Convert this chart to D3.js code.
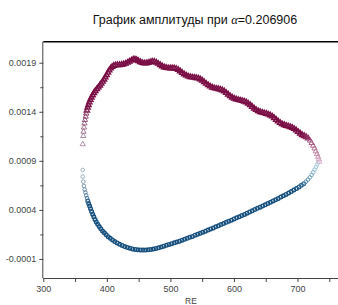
<!DOCTYPE html>
<html><head><meta charset="utf-8">
<script src="https://cdn.jsdelivr.net/npm/d3@7"></script>
<style>body{margin:0;background:#fff;overflow:hidden}</style>
</head><body><svg id="c" width="338" height="305"></svg>
<script>
const upperRE = [362.0,362.9,363.3,364.0,364.8,365.6,366.6,367.5,368.6,369.7,
371.0,372.4,374.0,375.7,377.6,379.6,381.8,384.2,386.5,388.9,
391.1,393.3,395.5,397.6,399.6,401.7,403.7,405.9,408.3,410.9,
413.8,416.8,419.9,423.1,426.2,429.3,432.5,435.6,438.8,441.6,
444.3,447.0,449.8,452.6,455.6,458.8,461.9,465.1,468.2,471.4,
474.5,477.7,480.8,484.0,487.1,490.2,493.4,496.5,499.7,502.8,
506.0,509.1,512.3,515.4,518.6,521.7,524.9,528.0,531.2,534.3,
537.5,540.6,543.8,546.9,550.0,553.2,556.3,559.5,562.6,565.8,
568.9,572.1,575.2,578.4,581.5,584.7,587.8,591.0,594.1,597.3,
600.4,603.5,606.7,609.8,613.0,616.1,619.3,622.4,625.6,628.7,
631.9,635.0,638.2,641.3,644.5,647.6,650.8,653.9,657.0,660.2,
663.3,666.5,669.6,672.8,675.9,679.1,682.2,685.4,688.5,691.7,
694.8,698.0,701.1,704.3,707.4,710.6,713.7,716.8,719.7,722.2,
724.6,726.8,728.8,730.7,732.3,733.5,734.5];
const upperAmp = [0.001069,0.001153,0.001197,0.001240,0.001281,0.001316,0.001350,0.001382,0.001413,0.001442,
0.001469,0.001496,0.001521,0.001545,0.001569,0.001591,0.001612,0.001631,0.001649,0.001668,
0.001687,0.001707,0.001729,0.001751,0.001775,0.001799,0.001822,0.001842,0.001858,0.001869,
0.001875,0.001876,0.001877,0.001879,0.001884,0.001891,0.001901,0.001912,0.001924,0.001933,
0.001934,0.001928,0.001917,0.001907,0.001899,0.001895,0.001895,0.001899,0.001906,0.001912,
0.001911,0.001903,0.001891,0.001877,0.001864,0.001854,0.001848,0.001845,0.001844,0.001844,
0.001843,0.001838,0.001828,0.001813,0.001797,0.001783,0.001771,0.001761,0.001755,0.001751,
0.001748,0.001745,0.001740,0.001732,0.001719,0.001703,0.001687,0.001672,0.001659,0.001648,
0.001641,0.001636,0.001632,0.001627,0.001620,0.001609,0.001593,0.001576,0.001560,0.001545,
0.001535,0.001527,0.001521,0.001516,0.001511,0.001505,0.001497,0.001484,0.001469,0.001452,
0.001434,0.001419,0.001407,0.001398,0.001391,0.001386,0.001380,0.001374,0.001365,0.001353,
0.001337,0.001319,0.001302,0.001287,0.001274,0.001265,0.001258,0.001252,0.001245,0.001237,
0.001226,0.001211,0.001195,0.001179,0.001164,0.001153,0.001143,0.001129,0.001107,0.001082,
0.001054,0.001026,0.000997,0.000969,0.000941,0.000916,0.000891];
const lowerRE = [362.0,362.0,362.9,364.0,365.1,366.2,367.5,368.8,370.0,371.4,
372.9,374.4,376.0,377.7,379.5,381.4,383.4,385.6,388.0,390.5,
393.2,396.0,399.0,402.1,405.4,408.9,412.5,416.3,420.2,424.2,
428.2,432.3,436.4,440.5,444.6,448.7,452.8,456.9,461.0,465.1,
469.2,473.3,477.3,481.4,485.5,489.6,493.7,497.8,501.9,506.0,
510.1,514.2,518.3,522.3,526.4,530.5,534.6,538.7,542.8,546.9,
551.0,555.1,559.2,563.3,567.4,571.4,575.5,579.6,583.7,587.8,
591.9,596.0,600.1,604.2,608.3,612.4,616.5,620.5,624.6,628.7,
632.8,636.9,641.0,645.1,649.2,653.3,657.4,661.5,665.5,669.6,
673.7,677.8,681.9,686.0,690.1,694.2,698.3,702.4,706.1,709.8,
713.2,716.5,719.5,722.2,724.7,726.9,729.0,730.7,732.3];
const lowerAmp = [0.000807,0.000739,0.000688,0.000644,0.000607,0.000578,0.000548,0.000520,0.000491,0.000466,
0.000439,0.000412,0.000384,0.000356,0.000329,0.000301,0.000277,0.000254,0.000230,0.000208,
0.000186,0.000166,0.000146,0.000127,0.000110,0.000094,0.000077,0.000063,0.000050,0.000038,
0.000026,0.000017,0.000009,0.000002,-0.000003,-0.000006,-0.000008,-0.000009,-0.000009,-0.000007,
-0.000004,0.000001,0.000007,0.000014,0.000022,0.000030,0.000040,0.000048,0.000056,0.000064,
0.000073,0.000081,0.000091,0.000100,0.000110,0.000120,0.000130,0.000142,0.000152,0.000162,
0.000172,0.000183,0.000194,0.000206,0.000216,0.000227,0.000238,0.000250,0.000261,0.000273,
0.000284,0.000295,0.000308,0.000319,0.000330,0.000342,0.000354,0.000367,0.000379,0.000391,
0.000403,0.000416,0.000428,0.000440,0.000452,0.000464,0.000478,0.000491,0.000503,0.000516,
0.000531,0.000544,0.000558,0.000572,0.000587,0.000602,0.000617,0.000634,0.000650,0.000667,
0.000687,0.000708,0.000731,0.000757,0.000783,0.000811,0.000837,0.000862,0.000882];
const xTickValues = [300,400,500,600,700];
const xMinorTicks = [350,450,550,650,750];
const yTickValues = [-0.0001,0.0004,0.0009,0.0014,0.0019];
const yMinorTicks = [0.00015,0.00065,0.00115,0.00165];
const titleText = "График амплитуды при ";
const alphaText = "\u03B1";
const alphaValue = "=0.206906";
const xLabel = "RE";

const svg = d3.select("#c");
const L = 43.3, T = 41.7, B = 278, Rpx = 338;
const x = d3.scaleLinear().domain([300, 766]).range([L, L + 466*0.6355]);
const y = d3.scaleLinear().domain([-0.000294, 0.002114]).range([B, T]);
const font = "'Liberation Sans', Arial, sans-serif";

// title
const t = svg.append("text").attr("x", 195).attr("y", 24).attr("text-anchor", "middle")
  .attr("font-family", font).attr("font-size", 12.5).attr("fill", "#111");
t.append("tspan").text(titleText);
t.append("tspan").attr("font-family", "'Liberation Serif', 'DejaVu Serif', serif").attr("font-style", "italic").text(alphaText);
t.append("tspan").text(alphaValue);

// frame top
svg.append("line").attr("x1", L).attr("x2", Rpx).attr("y1", T).attr("y2", T)
  .attr("stroke", "#000").attr("stroke-width", 1.4);

// axes
const gx = svg.append("g").attr("transform", `translate(0,${B})`)
  .call(d3.axisBottom(x).tickValues(xTickValues).tickSize(4).tickSizeOuter(0).tickPadding(4).tickFormat(d => String(d)));
gx.select(".domain").remove();
gx.append("line").attr("x1", L).attr("x2", Rpx).attr("y1", 0.5).attr("y2", 0.5).attr("stroke", "#444");
gx.selectAll(".tick line").attr("stroke", "#444");
gx.selectAll(".tick text").attr("font-family", font).attr("font-size", 9).attr("fill", "#444");
gx.selectAll(".minor").data(xMinorTicks).enter().append("line")
  .attr("x1", d => x(d) + 0.5).attr("x2", d => x(d) + 0.5).attr("y1", 0).attr("y2", 4).attr("stroke", "#444");

const gy = svg.append("g").attr("transform", `translate(${L},0)`)
  .call(d3.axisLeft(y).tickValues(yTickValues).tickSize(4).tickSizeOuter(0).tickPadding(3).tickFormat(d => d.toFixed(4)));
gy.select(".domain").remove();
gy.append("line").attr("x1", -0.5).attr("x2", -0.5).attr("y1", T).attr("y2", B).attr("stroke", "#444");
gy.selectAll(".tick line").attr("stroke", "#444");
gy.selectAll(".tick text").attr("font-family", font).attr("font-size", 9).attr("fill", "#444");
gy.selectAll(".minor").data(yMinorTicks).enter().append("line")
  .attr("x1", -3).attr("x2", 0).attr("y1", d => y(d) + 0.5).attr("y2", d => y(d) + 0.5).attr("stroke", "#444");

svg.append("text").attr("x", 191).attr("y", 304).attr("text-anchor", "middle")
  .attr("font-family", font).attr("font-size", 8.5).attr("fill", "#444").text(xLabel);

// colour fade near the fold ends
function fadeWeight(i, n, kStart, kEnd) {
  if (i < kStart) return 1 - i / kStart;
  if (i > n - 1 - kEnd) return (i - (n - 1 - kEnd)) / kEnd;
  return 0;
}
const upperColorStart = d3.interpolateRgb("#7a0e45", "#a68aa0");
const upperColorEnd = d3.interpolateRgb("#7a0e45", "#d8a8c4");
const lowerColorStart = d3.interpolateRgb("#17507e", "#9aaebc");
const lowerColorEnd = d3.interpolateRgb("#17507e", "#b4dce6");

const upper = upperRE.map((v, i) => ({re: v, a: upperAmp[i], i}));
const lower = lowerRE.map((v, i) => ({re: v, a: lowerAmp[i], i}));

const tri = d3.symbol().type(d3.symbolTriangle).size(12);
svg.append("g").selectAll("circle").data(lower).enter().append("circle")
  .attr("cx", d => x(d.re)).attr("cy", d => y(d.a)).attr("r", 1.8)
  .attr("fill", "none").attr("stroke-width", d => (d.i < 8 || d.i > lower.length - 10) ? 0.9 : 1.4)
  .attr("stroke", d => d.i < 10 ? lowerColorStart(fadeWeight(d.i, lower.length, 10, 0)) : lowerColorEnd(fadeWeight(d.i, lower.length, 0, 12)));
svg.append("g").selectAll("path").data(upper).enter().append("path")
  .attr("d", tri).attr("transform", d => `translate(${x(d.re)},${y(d.a)})`)
  .attr("fill", "none").attr("stroke-width", d => (d.i < 8 || d.i > upper.length - 10) ? 0.9 : 1.4)
  .attr("stroke", d => d.i < 10 ? upperColorStart(fadeWeight(d.i, upper.length, 10, 0)) : upperColorEnd(fadeWeight(d.i, upper.length, 0, 12)));
</script></body></html>
